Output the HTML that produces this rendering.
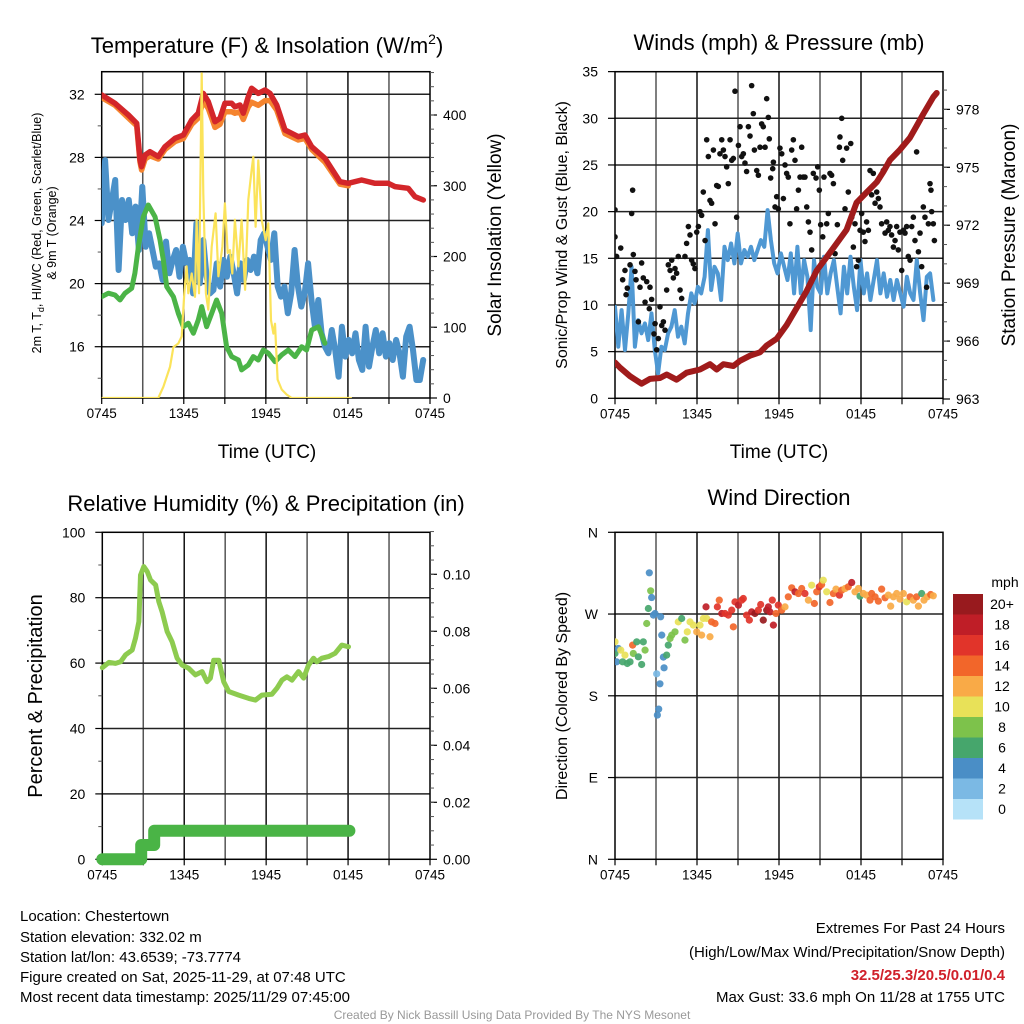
<!DOCTYPE html>
<html><head><meta charset="utf-8">
<style>
html,body{margin:0;padding:0;background:#fff;}
svg{display:block;font-family:"Liberation Sans",Arial,sans-serif;}
</style></head>
<body>
<svg id="fig" width="1024" height="1024" viewBox="0 0 1024 1024" xmlns="http://www.w3.org/2000/svg">
<defs>
<clipPath id="c1"><rect x="101.7" y="71.7" width="328.3" height="326.3"/></clipPath>
<clipPath id="c2"><rect x="615" y="71.7" width="328" height="327"/></clipPath>
<clipPath id="c3"><rect x="96" y="532.3" width="340" height="340"/></clipPath>
<clipPath id="c4"><rect x="615" y="532.3" width="328" height="327"/></clipPath>
</defs>
<g id="layer"></g>
<!-- titles -->
<text x="267" y="53" font-size="22" text-anchor="middle">Temperature (F) &amp; Insolation (W/m<tspan font-size="14" dy="-9">2</tspan><tspan dy="9">)</tspan></text>
<text x="779" y="50" font-size="22" text-anchor="middle">Winds (mph) &amp; Pressure (mb)</text>
<text x="266" y="511" font-size="22" text-anchor="middle">Relative Humidity (%) &amp; Precipitation (in)</text>
<text x="779" y="505" font-size="22" text-anchor="middle">Wind Direction</text>
<!-- axis titles -->
<text transform="translate(41,233) rotate(-90)" font-size="12.5" text-anchor="middle">2m T, T<tspan font-size="9" dy="3">d</tspan><tspan dy="-3">, HI/WC (Red, Green, Scarlet/Blue)</tspan></text>
<text transform="translate(56,233) rotate(-90)" font-size="12.5" text-anchor="middle">&amp; 9m T (Orange)</text>
<text transform="translate(501,235) rotate(-90)" font-size="19" text-anchor="middle">Solar Insolation (Yellow)</text>
<text x="267" y="458" font-size="19" text-anchor="middle">Time (UTC)</text>
<text transform="translate(567,235) rotate(-90)" font-size="16" text-anchor="middle">Sonic/Prop Wind &amp; Gust (Blue, Black)</text>
<text transform="translate(1015,235) rotate(-90)" font-size="19" text-anchor="middle">Station Pressure (Maroon)</text>
<text x="779" y="458" font-size="19" text-anchor="middle">Time (UTC)</text>
<text transform="translate(42,696) rotate(-90)" font-size="20" text-anchor="middle">Percent &amp; Precipitation</text>
<text transform="translate(567,696) rotate(-90)" font-size="16" text-anchor="middle">Direction (Colored By Speed)</text>
<!-- footer text -->
<g font-size="15">
<text x="20" y="921">Location: Chestertown</text>
<text x="20" y="942">Station elevation: 332.02 m</text>
<text x="20" y="962">Station lat/lon: 43.6539; -73.7774</text>
<text x="20" y="982">Figure created on Sat, 2025-11-29, at 07:48 UTC</text>
<text x="20" y="1002">Most recent data timestamp: 2025/11/29 07:45:00</text>
</g>
<g font-size="15" text-anchor="end">
<text x="1005" y="933">Extremes For Past 24 Hours</text>
<text x="1005" y="957">(High/Low/Max Wind/Precipitation/Snow Depth)</text>
<text x="1005" y="980" fill="#d0202a" font-weight="bold">32.5/25.3/20.5/0.01/0.4</text>
<text x="1005" y="1002">Max Gust: 33.6 mph On 11/28 at 1755 UTC</text>
</g>
<text x="512" y="1019" font-size="12" fill="#999" text-anchor="middle">Created By Nick Bassill Using Data Provided By The NYS Mesonet</text>
</svg>
<script>
// ---------- DATA ----------
const timeTickLabels = ["0745","1345","1945","0145","0745"];
// Panel 1
const redT = [0,0.97,1.95,2.56,2.8,2.92,3.17,3.53,4.14,4.63,5.36,5.97,6.58,7.06,7.43,7.79,8.28,8.65,9.01,9.5,9.74,10.11,10.35,10.72,10.96,11.45,11.94,12.3,12.79,13.4,13.89,14.37,14.86,15.35,16.32,17.42,18.03,19.0,19.98,20.95,21.44,22.41,22.9,23.51];
const redV = [31.96,31.43,30.69,30.16,27.84,27.41,28.15,28.36,28.05,28.68,29.21,29.42,30.37,30.8,32.06,31.53,30.26,30.48,31.43,31.43,31.21,31.32,30.8,31.85,32.38,32.06,32.27,32.06,31.32,29.74,29.53,29.31,29.42,28.68,27.94,26.46,26.36,26.57,26.36,26.36,26.15,26.04,25.51,25.3];
const orangeT = [0,0.97,1.95,2.56,2.8,2.92,3.17,3.53,4.14,4.63,5.36,5.97,6.58,7.06,7.43,7.79,8.28,8.65,9.01,9.5,9.74,10.11,10.35,10.72,10.96,11.45,11.94,12.3,12.79,13.4,13.89,14.37,14.86,15.35,16.32,17.42,18.03];
const orangeV = [31.8,31.3,30.5,30.0,27.7,27.2,27.9,28.1,27.9,28.5,29.0,29.2,30.1,30.5,31.6,31.1,29.9,30.1,30.9,30.9,30.8,30.9,30.4,31.2,31.5,31.3,31.6,31.6,31.0,29.5,29.3,29.1,29.2,28.5,27.7,26.3,26.2];
const greenT = [0,0.49,0.97,1.34,1.7,2.19,2.43,2.68,3.04,3.41,3.9,4.26,4.5,4.75,5.24,5.6,5.97,6.33,6.7,7.06,7.31,7.67,8.04,8.4,8.77,9.13,9.5,9.99,10.23,10.72,11.08,11.45,11.81,12.18,12.67,13.16,13.64,14.13,14.62,14.98,15.35,15.84,16.32];
const greenV = [19.17,19.39,19.28,18.96,19.39,19.71,20.66,22.34,24.24,24.98,24.24,22.77,21.5,19.81,19.17,18.12,17.27,17.49,16.85,17.7,18.54,17.27,18.12,18.96,18.12,16.0,15.37,15.16,14.53,14.84,15.37,15.16,15.79,15.59,15.05,15.48,15.79,15.37,16.0,15.79,17.06,17.27,16.22];
const blueV = [23.82,27.83,24.03,25.3,26.57,20.86,25.3,24.03,25.3,23.19,24.88,22.13,26.14,22.34,23.19,22.13,21.07,21.28,20.23,22.66,20.65,21.5,22.13,20.44,22.34,21.28,21.5,19.38,23.82,20.02,22.76,20.44,19.38,19.59,21.28,19.81,21.5,20.44,21.71,20.65,19.38,21.28,20.23,21.5,20.86,21.71,20.65,22.76,23.19,22.34,21.5,23.19,19.81,19.17,19.81,18.12,19.38,22.13,19.81,18.54,19.38,21.28,18.96,17.27,18.96,16.85,16.0,15.58,17.06,15.79,14.1,17.27,15.37,16.43,15.58,16.85,15.16,14.53,17.27,14.74,16.0,17.06,15.58,16.85,15.37,16.22,15.16,16.43,15.58,14.1,16.64,17.27,15.79,13.89,13.89,15.16];
const blueSpan = [0, 23.5];
const solarT = [0,4.14,4.51,4.99,5.24,5.6,5.85,6.04,6.21,6.33,6.58,6.82,6.94,7.11,7.31,7.43,7.62,7.79,8.04,8.33,8.53,8.82,9.01,9.21,9.38,9.55,9.74,9.99,10.23,10.48,10.72,10.96,11.08,11.25,11.45,11.69,11.99,12.18,12.38,12.55,12.67,12.86,13.16,13.52,13.89,18.22];
const solarV = [0,0,16,44,72,77,87,148,186,148,176,143,252,148,459,289,148,125,214,261,172,214,275,205,209,176,252,186,252,153,280,322,341,242,336,252,223,247,110,91,105,26,12,5,0,0];
// Panel 2
const windV = [9.81,5.53,9.45,5.17,9.1,14.09,5.53,8.38,6.96,8.03,6.24,9.1,5.17,2.67,5.53,5.17,6.96,7.67,9.45,6.6,7.67,5.88,9.1,11.24,10.17,11.95,11.24,13.02,18.02,11.6,14.09,13.38,10.53,16.23,14.81,16.59,14.45,17.66,14.45,15.88,15.16,16.23,14.81,15.88,16.95,16.23,20.16,16.95,14.45,13.38,15.52,14.09,12.67,15.52,11.24,16.23,11.24,14.81,13.02,7.31,14.81,11.95,11.24,15.16,11.24,13.38,14.81,11.95,9.1,14.09,11.24,15.16,11.95,9.45,14.81,11.24,13.38,10.53,12.67,14.81,11.24,13.38,10.88,12.67,10.53,12.67,11.24,9.81,13.02,11.24,10.53,14.81,11.24,8.38,13.02,13.38,10.53];
const windSpan = [0, 23.3];
const gustT = [0,0,0.12,0.42,0.73,0.56,0.9,0.81,1.1,1.22,1.29,1.34,1.46,1.54,1.71,1.83,1.95,2.07,2.2,2.32,2.51,2.56,2.68,2.85,2.93,3.05,3.17,3.29,3.42,3.54,3.66,3.78,3.9,4.03,4.15,4.27,4.39,4.51,4.63,4.76,4.88,5.12,5.24,5.37,5.49,5.61,5.73,5.85,5.98,6.1,6.22,6.34,6.46,6.59,6.71,6.83,6.95,7.07,7.2,7.32,7.44,7.56,7.68,7.81,7.93,8.05,8.17,8.29,8.42,8.54,8.66,8.78,8.9,9.03,9.15,9.27,9.39,9.51,9.63,9.76,9.88,10.0,10.12,10.2,10.37,10.49,10.61,10.73,10.85,10.98,11.1,11.22,11.29,11.39,11.54,11.59,11.71,11.83,11.95,12.07,12.2,12.32,12.44,12.56,12.68,12.8,12.93,13.05,13.17,13.29,13.42,13.54,13.66,13.78,13.9,14.03,14.15,14.27,14.39,14.51,14.71,14.83,14.95,15.05,15.2,15.29,15.49,15.61,15.73,15.85,15.98,16.1,16.27,16.42,16.46,16.59,16.66,16.83,16.95,17.07,17.25,17.32,17.44,17.56,17.68,17.81,17.93,18.05,18.17,18.29,18.41,18.54,18.66,18.78,18.9,19.03,19.15,19.27,19.39,19.51,19.63,19.76,19.88,20.0,20.12,20.24,20.37,20.49,20.61,20.73,20.85,20.98,21.1,21.22,21.34,21.46,21.59,21.71,21.83,21.95,22.07,22.2,22.32,22.44,22.56,22.68,22.8,22.93,23.05,23.12,23.17,23.29,23.37];
const gustV = [17.3,20.2,15.2,16.1,13.7,12.7,11.8,11.1,14.3,19.8,22.3,15.4,13.6,12.7,8.2,11.9,14.5,12.9,10.3,12.5,9.6,11.9,10.6,6.9,8.0,5.2,6.4,9.8,7.8,8.2,7.3,11.6,14.3,13.7,14.8,12.9,13.9,13.4,15.2,11.6,10.7,15.2,16.6,18.4,17.5,14.8,14.4,13.9,17.8,18.4,20.0,19.6,22.1,16.9,27.7,25.9,21.2,20.9,26.6,18.7,22.8,22.7,26.2,27.7,26.6,25.9,24.8,23.0,27.7,25.5,25.7,32.9,19.4,27.1,29.1,25.9,26.2,25.2,24.3,29.1,28.1,33.5,30.5,26.6,24.4,23.9,26.9,29.4,29.1,26.9,32.1,30.1,27.8,23.6,24.6,25.3,20.5,21.6,20.3,26.8,26.2,21.4,25.0,24.1,23.7,18.7,26.6,27.7,25.5,20.3,22.3,23.7,26.9,23.7,23.7,20.5,18.9,17.8,15.9,24.1,23.6,24.8,22.3,18.6,17.3,23.7,18.7,19.8,24.1,23.9,23.0,15.5,18.6,26.9,28.0,30.0,25.5,20.3,26.8,22.1,27.3,19.4,16.2,18.7,14.1,14.8,18.0,19.8,17.8,16.8,18.9,18.0,24.4,21.8,24.1,20.9,22.1,21.4,20.5,18.7,24.4,17.7,18.9,18.0,18.4,17.5,16.2,16.9,18.4,15.9,17.8,13.7,18.0,17.7,18.4,15.2,14.8,18.4,19.4,16.9,26.4,15.7,17.7,14.1,20.5,19.4,11.9,18.7,23.0,22.3,20.0,18.7,16.9];
const presT = [0,0.37,1.1,1.95,2.56,3.29,3.78,4.51,5.24,6.22,6.95,7.44,7.93,8.66,9.15,9.88,10.61,11.1,11.83,12.56,13.29,14.02,14.76,15.49,16.22,16.95,17.68,18.41,19.15,19.63,20.12,20.85,21.58,22.07,22.56,23.29,23.54];
const presV = [964.89,964.62,964.18,963.79,964.04,964.09,964.27,964.0,964.36,964.53,964.8,964.53,964.8,964.71,964.98,965.24,965.42,965.77,966.12,966.83,967.71,968.59,969.65,970.35,971.06,971.77,973.17,973.7,974.23,974.76,975.38,975.91,976.53,977.14,977.76,978.64,978.85];
// Panel 3
const rhT = [0,0.48,0.97,1.34,1.7,2.19,2.43,2.68,2.8,3.04,3.29,3.53,3.9,4.14,4.38,4.75,5.11,5.48,5.85,6.33,6.82,7.31,7.67,7.92,8.16,8.53,8.89,9.26,9.99,10.72,11.21,11.69,12.42,12.79,13.16,13.52,13.89,14.37,14.74,15.1,15.47,15.71,16.08,16.57,17.05,17.54,18.03];
const rhV = [58.6,60.2,59.9,60.4,62.5,64.0,67.6,72.7,86.9,89.5,88.0,85.4,83.9,78.8,75.7,69.6,66.5,61.5,59.4,58.4,56.4,57.4,54.3,55.4,60.9,60.9,54.3,51.3,50.2,49.2,48.7,50.2,50.5,52.3,54.8,55.8,54.8,57.4,55.4,59.4,61.5,60.4,61.5,62.0,63.0,65.5,65.0];
const precipT = [0,2.85,2.85,3.8,3.8,18.1];
const precipV = [0,0,0.005,0.005,0.01,0.01];
// Panel 4
const dirT = [0,0,0.12,0.24,0.42,0.56,0.73,0.9,1.1,1.29,1.34,1.59,1.71,1.95,2.07,2.2,2.32,2.44,2.51,2.61,2.68,2.81,2.93,3.05,3.1,3.2,3.29,3.34,3.42,3.54,3.59,3.78,3.9,4.03,4.15,4.39,4.63,4.88,5.12,5.29,5.49,5.73,5.98,6.22,6.34,6.46,6.66,6.71,6.95,7.07,7.32,7.49,7.63,7.81,8.05,8.29,8.54,8.66,8.78,9.03,9.27,9.39,9.63,9.83,10.0,10.24,10.49,10.66,10.85,11.1,11.22,11.34,11.51,11.59,11.78,11.95,12.2,12.44,12.68,12.93,13.17,13.42,13.66,13.9,14.15,14.39,14.59,14.76,14.95,15.12,15.24,15.49,15.73,15.98,16.17,16.42,16.59,16.83,17.07,17.32,17.56,17.81,17.93,18.17,18.41,18.66,18.78,19.03,19.27,19.51,19.76,20.0,20.17,20.37,20.61,20.85,21.1,21.34,21.59,21.83,22.07,22.2,22.44,22.61,22.85,23.1,23.29];
const dirV = [239.4,226.6,217.4,232.1,230.3,217.4,224.8,215.6,217.4,235.8,226.6,239.4,222.9,214.5,239.4,230.3,259.6,276.1,315.4,295.6,288.2,268.8,270.6,204.2,158.8,165.4,193.2,267.0,246.8,222.6,210.8,224.8,235.8,243.1,246.8,250.4,261.4,265.1,241.3,250.4,261.4,257.8,250.4,257.8,246.8,265.1,277.9,265.1,245.0,261.4,259.6,277.9,285.3,270.6,270.6,268.8,274.3,255.9,283.4,279.8,285.3,287.1,268.8,263.3,272.4,270.6,274.3,280.5,263.3,274.3,277.9,272.4,285.3,257.8,270.6,279.8,274.3,277.9,289.0,298.9,294.5,292.6,298.1,292.6,285.3,301.8,281.6,294.5,300.0,302.5,307.3,294.5,282.7,292.6,297.4,290.8,296.3,298.1,300.0,304.7,294.5,298.1,289.7,292.6,290.8,285.3,292.6,289.0,284.2,297.4,287.9,290.8,278.7,289.0,292.6,286.4,292.6,283.4,289.0,285.3,289.0,278.7,292.6,285.3,289.0,291.5,290.1];
const dirSpeed = [11,7,5,5,11,7,11,7,7,15,9,7,7,7,7,9,9,7,5,9,5,5,5,3,5,5,5,5,5,5,5,7,7,9,9,9,11,7,9,11,11,11,13,11,13,11,19,11,13,15,15,17,15,19,17,17,17,15,17,19,17,17,17,17,19,21,17,17,21,21,19,19,17,19,15,17,15,13,15,15,19,15,15,17,13,11,15,15,17,15,11,11,15,15,13,17,15,13,15,19,13,13,7,13,13,15,15,15,15,15,15,13,13,13,13,13,13,11,15,13,15,13,7,13,13,15,13];
const speedBins = [0,2,4,6,8,10,12,14,16,18,20];
const speedBinLabels = ["0","2","4","6","8","10","12","14","16","18","20+"];
const speedColors = ["#b6e2f8","#7bb9e4","#4a8ec6","#46a66c","#7dc24b","#e8e158","#f9aa47","#f2662a","#e1342a","#bf1e27","#981a1e"];

// ---------- HELPERS ----------
const NS = "http://www.w3.org/2000/svg";
const layer = document.getElementById("layer");
function mk(tag, attrs, parent) {
  const e = document.createElementNS(NS, tag);
  for (const k in attrs) e.setAttribute(k, attrs[k]);
  (parent || layer).appendChild(e);
  return e;
}
function txt(x, y, s, attrs, parent) {
  const e = mk("text", Object.assign({x: x, y: y}, attrs || {}), parent);
  e.textContent = s;
  return e;
}
function scaleX(x0, x1) { return t => x0 + t * (x1 - x0) / 24; }
function lin(v0, p0, v1, p1) { return v => p0 + (v - v0) * (p1 - p0) / (v1 - v0); }
function pts(ts, vs, fx, fy) { return ts.map((t, i) => fx(t).toFixed(1) + "," + fy(vs[i]).toFixed(1)).join(" "); }
function spanTimes(n, span) { const a = []; for (let i = 0; i < n; i++) a.push(span[0] + i * (span[1] - span[0]) / (n - 1)); return a; }

function frame(x0, x1, y0, y1, fx, hVals, fy, name) {
  const g = mk("g", {});
  
  
  for (let h = 3; h < 24; h += 3) {
    mk("line", {x1: fx(h), x2: fx(h), y1: y0, y2: y1, stroke: h % 6 === 0 ? "#111" : "#555", "stroke-width": 1.5}, g);
  }
  hVals.forEach(v => mk("line", {x1: x0, x2: x1, y1: fy(v), y2: fy(v), stroke: "#222", "stroke-width": 1.5}, g));
  const b = mk("rect", {x: x0, y: y0, width: x1 - x0, height: y1 - y0, fill: "none", stroke: "#000", "stroke-width": 1.5});
  
  
  // x ticks
  for (let h = 0; h <= 24; h += 3) {
    mk("line", {x1: fx(h), x2: fx(h), y1: y1, y2: y1 + 6, stroke: "#000", "stroke-width": 1.2});
  }
  timeTickLabels.forEach((s, i) => {
    const t = txt(fx(i * 6), y1 + 20, s, {"font-size": 13.5, "text-anchor": "middle"});
    
    
  });
}
function leftAxis(x, vals, labels, fy, minors, name) {
  vals.forEach((v, i) => {
    mk("line", {x1: x - 7, x2: x, y1: fy(v), y2: fy(v), stroke: "#000", "stroke-width": 1.2});
    const t = txt(x - 17, fy(v) + 5, labels[i], {"font-size": 14, "text-anchor": "end"});
    
    
  });
  minors.forEach(v => mk("line", {x1: x - 4, x2: x, y1: fy(v), y2: fy(v), stroke: "#555", "stroke-width": 1}));
}
function rightAxis(x, vals, labels, fy, minors, name) {
  vals.forEach((v, i) => {
    mk("line", {x1: x, x2: x + 7, y1: fy(v), y2: fy(v), stroke: "#000", "stroke-width": 1.2});
    const t = txt(x + 13, fy(v) + 5, labels[i], {"font-size": 14});
    
    
  });
  minors.forEach(v => mk("line", {x1: x, x2: x + 4, y1: fy(v), y2: fy(v), stroke: "#555", "stroke-width": 1}));
}
function line(ts, vs, fx, fy, color, w, clip, name) {
  const p = mk("polyline", {points: pts(ts, vs, fx, fy), fill: "none", stroke: color, "stroke-width": w, "stroke-linejoin": "round", "stroke-linecap": "round", "clip-path": "url(#" + clip + ")"});
  
  
  return p;
}
function range(a, b, s) { const r = []; for (let v = a; v <= b + 1e-9; v += s) r.push(+v.toFixed(4)); return r; }

// ---------- PANEL 1 ----------
{
  const fx = scaleX(101.7, 430);
  const fy = lin(32, 94.3, 16, 346.7);
  const fs = lin(0, 398, 400, 115);
  frame(101.7, 430, 71.7, 398, fx, [16, 20, 24, 28, 32], fy, "temperature");
  leftAxis(101.7, [16, 20, 24, 28, 32], ["16", "20", "24", "28", "32"], fy, [14, 18, 22, 26, 30], "temperature-y");
  rightAxis(430, [0, 100, 200, 300, 400], ["0", "100", "200", "300", "400"], fs, range(20, 460, 20), "solar-y");
  line(spanTimes(blueV.length, blueSpan), blueV, fx, fy, "#4b91c9", 6, "c1", "wind-chill-line");
  line(greenT, greenV, fx, fy, "#4bb447", 5, "c1", "dewpoint-line");
  line(orangeT, orangeV, fx, fy, "#f5842f", 5.5, "c1", "temperature-9m-line");
  line(redT, redV, fx, fy, "#d3262a", 5.5, "c1", "temperature-2m-line");
  line(solarT, solarV, fx, fs, "#fbe35a", 2.2, "c1", "solar-insolation-line");
}
// ---------- PANEL 2 ----------
{
  const fx = scaleX(615, 943);
  const fy = lin(0, 398.3, 30, 118.3);
  const fp = lin(963, 399, 975, 167.3);
  frame(615, 943, 71.7, 398.3, fx, [5, 10, 15, 20, 25, 30], fy, "winds");
  leftAxis(615, [0, 5, 10, 15, 20, 25, 30, 35], ["0", "5", "10", "15", "20", "25", "30", "35"], fy, [], "wind-y");
  rightAxis(943, [963, 966, 969, 972, 975, 978], ["963", "966", "969", "972", "975", "978"], fp, range(964, 979, 1), "pressure-y");
  line(spanTimes(windV.length, windSpan), windV, fx, fy, "#4f98d3", 4, "c2", "sustained-wind-line");
  const g = mk("g", {"clip-path": "url(#c2)"});
  
  
  gustT.forEach((t, i) => {
    const c = mk("circle", {cx: fx(t), cy: fy(gustV[i]), r: 2.8, fill: "#111"}, g);
    
    
  });
  line(presT, presV, fx, fp, "#a01b1b", 6, "c2", "pressure-line");
}
// ---------- PANEL 3 ----------
{
  const fx = scaleX(102.3, 430);
  const fy = lin(0, 859.3, 100, 532.3);
  const fp = lin(0, 859.3, 0.1, 574.3);
  frame(102.3, 430, 532.3, 859.3, fx, [20, 40, 60, 80], fy, "humidity");
  leftAxis(102.3, [0, 20, 40, 60, 80, 100], ["0", "20", "40", "60", "80", "100"], fy, [10, 30, 50, 70, 90], "humidity-y");
  rightAxis(430, [0, 0.02, 0.04, 0.06, 0.08, 0.1], ["0.00", "0.02", "0.04", "0.06", "0.08", "0.10"], fp, range(0.005, 0.115, 0.005), "precip-y");
  line(rhT, rhV, fx, fy, "#8dcb4f", 5, "c3", "relative-humidity-line");
  line(precipT, precipV, fx, fp, "#4ab446", 12, "c3", "precipitation-line");
}
// ---------- PANEL 4 ----------
{
  const fx = scaleX(615, 943);
  const fy = lin(0, 859.3, 360, 532.3);
  frame(615, 943, 532.3, 859.3, fx, [90, 180, 270], fy, "direction");
  leftAxis(615, [0, 90, 180, 270, 360], ["N", "E", "S", "W", "N"], fy, [], "direction-y");
  const g = mk("g", {"clip-path": "url(#c4)"});
  
  
  dirT.forEach((t, i) => {
    let b = 0;
    speedBins.forEach((s, k) => { if (dirSpeed[i] >= s) b = k; });
    const c = mk("circle", {cx: fx(t), cy: fy(dirV[i]), r: 3.6, fill: speedColors[b], "fill-opacity": 0.92}, g);
    
    
  });
  // colorbar
  const cb = mk("g", {});
  
  
  const t0 = txt(1005, 587, "mph", {"font-size": 14, "text-anchor": "middle"}, cb);
  
  
  speedColors.forEach((c, k) => {
    const y = 594 + (10 - k) * 20.5;
    const r = mk("rect", {x: 953, y: y, width: 30, height: 20.5, fill: c}, cb);
    
    
    const l = txt(1002, y + 15, speedBinLabels[k], {"font-size": 14, "text-anchor": "middle"}, cb);
    
    
  });
}
</script>
</body></html>
